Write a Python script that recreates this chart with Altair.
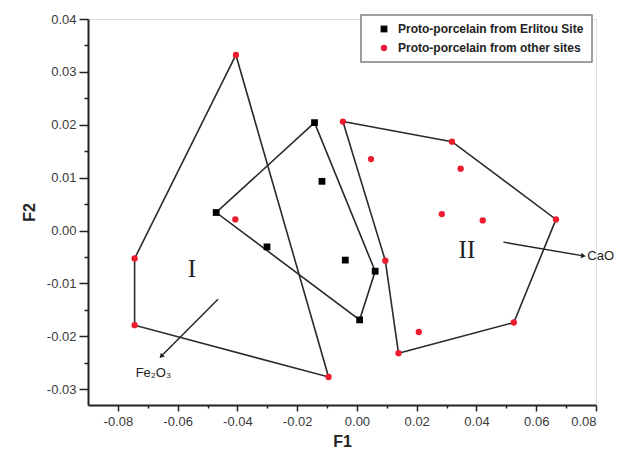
import math
import altair as alt
import pandas as pd

# ---------------- data ----------------
series_names = ["Proto-porcelain from Erlitou Site", "Proto-porcelain from other sites"]

black_x = [-0.0142, -0.0117, -0.0471, -0.0301, -0.0039, 0.0061, 0.0009]
black_y = [0.0204, 0.0093, 0.0034, -0.0031, -0.0056, -0.0077, -0.0169]

red_x = [-0.0405, -0.0047, 0.0047, -0.0407, 0.0318, 0.0347, 0.0284, 0.0421,
         0.0666, 0.0095, 0.0525, 0.0207, 0.0139, -0.0095, -0.0744, -0.0744]
red_y = [0.0332, 0.0206, 0.0135, 0.0021, 0.0168, 0.0117, 0.0031, 0.0019,
         0.0021, -0.0057, -0.0174, -0.0192, -0.0232, -0.0277, -0.0053, -0.0179]

region1_x = [-0.0405, -0.0744, -0.0744, -0.0095, -0.0405]
region1_y = [0.0332, -0.0053, -0.0179, -0.0277, 0.0332]
erlitou_x = [-0.0142, 0.0061, 0.0009, -0.0471, -0.0142]
erlitou_y = [0.0204, -0.0077, -0.0169, 0.0034, 0.0204]
region2_x = [-0.0047, 0.0318, 0.0666, 0.0525, 0.0139, 0.0095, -0.0047]
region2_y = [0.0206, 0.0168, 0.0021, -0.0174, -0.0232, -0.0057, 0.0206]

region_labels = ["I", "II"]
region_label_x = [-0.0552, 0.0368]
region_label_y = [-0.0072, -0.0037]

arrow_names = ["Fe₂O₃", "CaO"]
arrow_x0 = [-0.0465, 0.0490]
arrow_y0 = [-0.0130, -0.0022]
arrow_x1 = [-0.0655, 0.0758]
arrow_y1 = [-0.0238, -0.0048]
arrow_label_x = [-0.0681, 0.0771]
arrow_label_y = [-0.0270, -0.0049]
arrow_label_align = ["center", "left"]

x_major = [-0.08, -0.06, -0.04, -0.02, 0.0, 0.02, 0.04, 0.06, 0.08]
x_minor = [-0.07, -0.05, -0.03, -0.01, 0.01, 0.03, 0.05, 0.07]
y_major = [-0.03, -0.02, -0.01, 0.0, 0.01, 0.02, 0.03, 0.04]
y_minor = [-0.025, -0.015, -0.005, 0.005, 0.015, 0.025, 0.035]

X_DOMAIN = [-0.09, 0.08]
Y_DOMAIN = [-0.033, 0.04]
W, H = 508, 386

# ---------------- tables ----------------
pts = pd.DataFrame(
    [{"series": series_names[0], "x": a, "y": b} for a, b in zip(black_x, black_y)]
    + [{"series": series_names[1], "x": a, "y": b} for a, b in zip(red_x, red_y)]
)

poly_rows = []
for name, xs_, ys_ in [("I", region1_x, region1_y), ("E", erlitou_x, erlitou_y), ("II", region2_x, region2_y)]:
    for i, (a, b) in enumerate(zip(xs_, ys_)):
        poly_rows.append({"poly": name, "order": i, "x": a, "y": b})
polys = pd.DataFrame(poly_rows)

sx = W / (X_DOMAIN[1] - X_DOMAIN[0])
sy = H / (Y_DOMAIN[1] - Y_DOMAIN[0])
arrow_rows, head_rows = [], []
for n, a0, b0, a1, b1 in zip(arrow_names, arrow_x0, arrow_y0, arrow_x1, arrow_y1):
    arrow_rows.append({"arrow": n, "order": 0, "x": a0, "y": b0})
    arrow_rows.append({"arrow": n, "order": 1, "x": a1, "y": b1})
    ang = math.degrees(math.atan2((a1 - a0) * sx, (b1 - b0) * sy)) % 360
    head_rows.append({"arrow": n, "x": a1, "y": b1, "angle": ang})
arrows = pd.DataFrame(arrow_rows)
heads = pd.DataFrame(head_rows)

region_text = pd.DataFrame({"label": region_labels, "x": region_label_x, "y": region_label_y})
arrow_text = pd.DataFrame({"label": arrow_names, "x": arrow_label_x, "y": arrow_label_y,
                           "align": arrow_label_align})

xs = alt.Scale(domain=X_DOMAIN, nice=False, zero=False)
ys = alt.Scale(domain=Y_DOMAIN, nice=False, zero=False)

label_expr = "(datum.value < 0 ? '-' : '') + format(abs(datum.value), '.2f')"
FONT = "Liberation Sans"

x_axis = alt.Axis(values=x_major, labelExpr=label_expr, title="F1", orient="bottom",
                  grid=False, domainWidth=2, domainColor="#222", tickColor="#222",
                  tickWidth=1.5, tickSize=6, labelFont=FONT, labelFontSize=13,
                  labelColor="#3a3a3a", labelPadding=4, titleFont=FONT, titleFontSize=16,
                  titleFontWeight="bold", titleColor="#222", titlePadding=5)
y_axis = alt.Axis(values=y_major, labelExpr=label_expr, title="F2", orient="left",
                  grid=False, domainWidth=2, domainColor="#222", tickColor="#222",
                  tickWidth=1.5, tickSize=9, labelFont=FONT, labelFontSize=13,
                  labelColor="#3a3a3a", labelPadding=3, titleFont=FONT, titleFontSize=16,
                  titleFontWeight="bold", titleColor="#222", titlePadding=9)
x_minor_axis = alt.Axis(values=x_minor, labels=False, domain=False, title=None, orient="bottom",
                        grid=False, tickColor="#222", tickWidth=1.5, tickSize=3)
y_minor_axis = alt.Axis(values=y_minor, labels=False, domain=False, title=None, orient="left",
                        grid=False, tickColor="#222", tickWidth=1.5, tickSize=4)

poly_layer = alt.Chart(polys).mark_line(color="#2a2a2a", strokeWidth=1.6).encode(
    x=alt.X("x:Q", scale=xs, axis=x_axis),
    y=alt.Y("y:Q", scale=ys, axis=y_axis),
    detail="poly:N",
    order="order:Q",
)

minor_layer = alt.Chart(pts).mark_point(opacity=0).encode(
    x=alt.X("x:Q", scale=xs, axis=x_minor_axis),
    y=alt.Y("y:Q", scale=ys, axis=y_minor_axis),
)

legend = alt.Legend(orient="none", legendX=273, legendY=-4, title=None,
                    strokeColor="#808080", fillColor="white",
                    padding=8, symbolOffset=9, labelOffset=8, rowPadding=7,
                    labelFont=FONT, labelFontSize=12, labelFontWeight="bold",
                    labelLimit=400, labelColor="#222", symbolSize=42, symbolStrokeWidth=0)

point_layer = alt.Chart(pts).mark_point(filled=True, opacity=1).encode(
    x=alt.X("x:Q", scale=xs, axis=None),
    y=alt.Y("y:Q", scale=ys, axis=None),
    color=alt.Color("series:N", scale=alt.Scale(domain=series_names, range=["#000000", "#ec1c2e"]),
                    legend=legend),
    shape=alt.Shape("series:N", scale=alt.Scale(domain=series_names, range=["square", "circle"]),
                    legend=legend),
    size=alt.Size("series:N", scale=alt.Scale(domain=series_names, range=[46, 40]), legend=None),
)

arrow_layer = alt.Chart(arrows).mark_line(color="#222", strokeWidth=1.4).encode(
    x=alt.X("x:Q", scale=xs, axis=None),
    y=alt.Y("y:Q", scale=ys, axis=None),
    detail="arrow:N",
    order="order:Q",
)

head_layer = alt.Chart(heads).mark_point(shape="triangle-up", filled=True, color="#222",
                                         opacity=1, size=30).encode(
    x=alt.X("x:Q", scale=xs, axis=None),
    y=alt.Y("y:Q", scale=ys, axis=None),
    angle=alt.Angle("angle:Q", scale=None),
)

region_text_layer = alt.Chart(region_text).mark_text(font="Liberation Serif", fontSize=25,
                                                     color="#222").encode(
    x=alt.X("x:Q", scale=xs, axis=None),
    y=alt.Y("y:Q", scale=ys, axis=None),
    text="label:N",
)

arrow_text_layers = []
for al in ["center", "left"]:
    arrow_text_layers.append(
        alt.Chart(arrow_text).transform_filter(alt.datum.align == al)
        .mark_text(font=FONT, fontSize=13, color="#222", baseline="middle", align=al)
        .encode(
            x=alt.X("x:Q", scale=xs, axis=None),
            y=alt.Y("y:Q", scale=ys, axis=None),
            text="label:N",
        )
    )

chart = alt.layer(
    poly_layer, minor_layer, arrow_layer, head_layer, point_layer,
    region_text_layer, *arrow_text_layers,
).resolve_axis(x="independent", y="independent").properties(
    width=W, height=H,
    padding={"left": 80, "top": 11, "right": 30, "bottom": 45},
    autosize="none",
).configure_view(stroke=None).configure(background="white").configure_legend(strokeWidth=1.5)

chart.save("out.html", embed_options={"renderer": "svg", "actions": False})
